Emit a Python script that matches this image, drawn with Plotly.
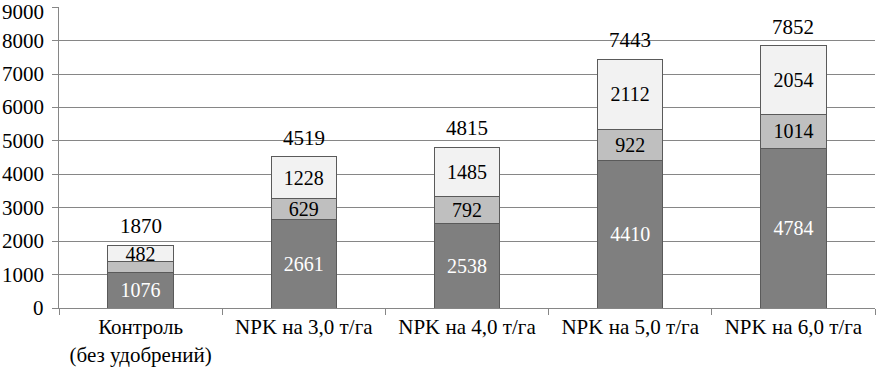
import plotly.graph_objects as go

categories = ["Контроль<br>(без удобрений)", "NPK на 3,0 т/га", "NPK на 4,0 т/га",
              "NPK на 5,0 т/га", "NPK на 6,0 т/га"]
bottom_vals = [1076, 2661, 2538, 4410, 4784]
middle_vals = [312, 629, 792, 922, 1014]
top_vals = [482, 1228, 1485, 2112, 2054]
totals = [1870, 4519, 4815, 7443, 7852]
middle_labels = ["", "629", "792", "922", "1014"]
y_ticks = [0, 1000, 2000, 3000, 4000, 5000, 6000, 7000, 8000, 9000]

FONT = "Liberation Serif"
FS_IN = 20
FS = 21
edge = dict(color="#5a5a5a", width=1)

fig = go.Figure()
fig.add_bar(x=categories, y=bottom_vals, marker=dict(color="#7f7f7f", line=edge),
            text=[str(v) for v in bottom_vals], textposition="inside",
            insidetextanchor="middle", textfont=dict(color="white", size=FS_IN, family=FONT),
            width=0.4, hoverinfo="skip")
fig.add_bar(x=categories, y=middle_vals, marker=dict(color="#bfbfbf", line=edge),
            text=middle_labels, textposition="inside",
            insidetextanchor="middle", textfont=dict(color="black", size=FS_IN, family=FONT),
            width=0.4, hoverinfo="skip")
fig.add_bar(x=categories, y=top_vals, marker=dict(color="#f2f2f2", line=edge),
            text=[str(v) for v in top_vals], textposition="inside",
            insidetextanchor="middle", textfont=dict(color="black", size=FS_IN, family=FONT),
            width=0.4, hoverinfo="skip")

for c, t in zip(categories, totals):
    fig.add_annotation(x=c, y=t, text=str(t), showarrow=False, yanchor="bottom",
                       yshift=5, font=dict(size=FS, family=FONT, color="black"))

# y tick labels drawn as annotations so the top one is shown too
top_tick = max(y_ticks)
for v in y_ticks:
    fig.add_annotation(x=0, xref="paper", y=v, yref="y", text=str(v), showarrow=False,
                       xanchor="right", yanchor="middle", xshift=-14,
                       yshift=(-5 if v == top_tick else 0), borderpad=0,
                       font=dict(size=FS, family=FONT, color="black"))

fig.update_layout(
    barmode="stack", width=876, height=374,
    margin=dict(l=59, r=1, t=7, b=66, autoexpand=False),
    paper_bgcolor="white", plot_bgcolor="white", showlegend=False,
    font=dict(family=FONT, size=FS, color="black"),
    uniformtext=dict(minsize=FS_IN, mode="show"),
)
fig.update_xaxes(type="category", tickson="boundaries", ticks="outside", ticklen=6,
                 tickcolor="#868686", showline=True, linecolor="#868686", linewidth=1,
                 showgrid=False, range=[-0.5, 4.5], automargin=False,
                 tickfont=dict(size=FS, family=FONT, color="black"))
fig.update_yaxes(range=[0, 9005], tickvals=y_ticks, ticks="outside", ticklen=6,
                 tickcolor="#868686", showline=True, linecolor="#868686", linewidth=1,
                 showgrid=True, gridcolor="#868686", gridwidth=1, zeroline=False,
                 automargin=False, showticklabels=False)

fig.write_html("out.html", config={"displayModeBar": False},
               post_script="document.body.style.margin='0';document.body.style.padding='0';")
